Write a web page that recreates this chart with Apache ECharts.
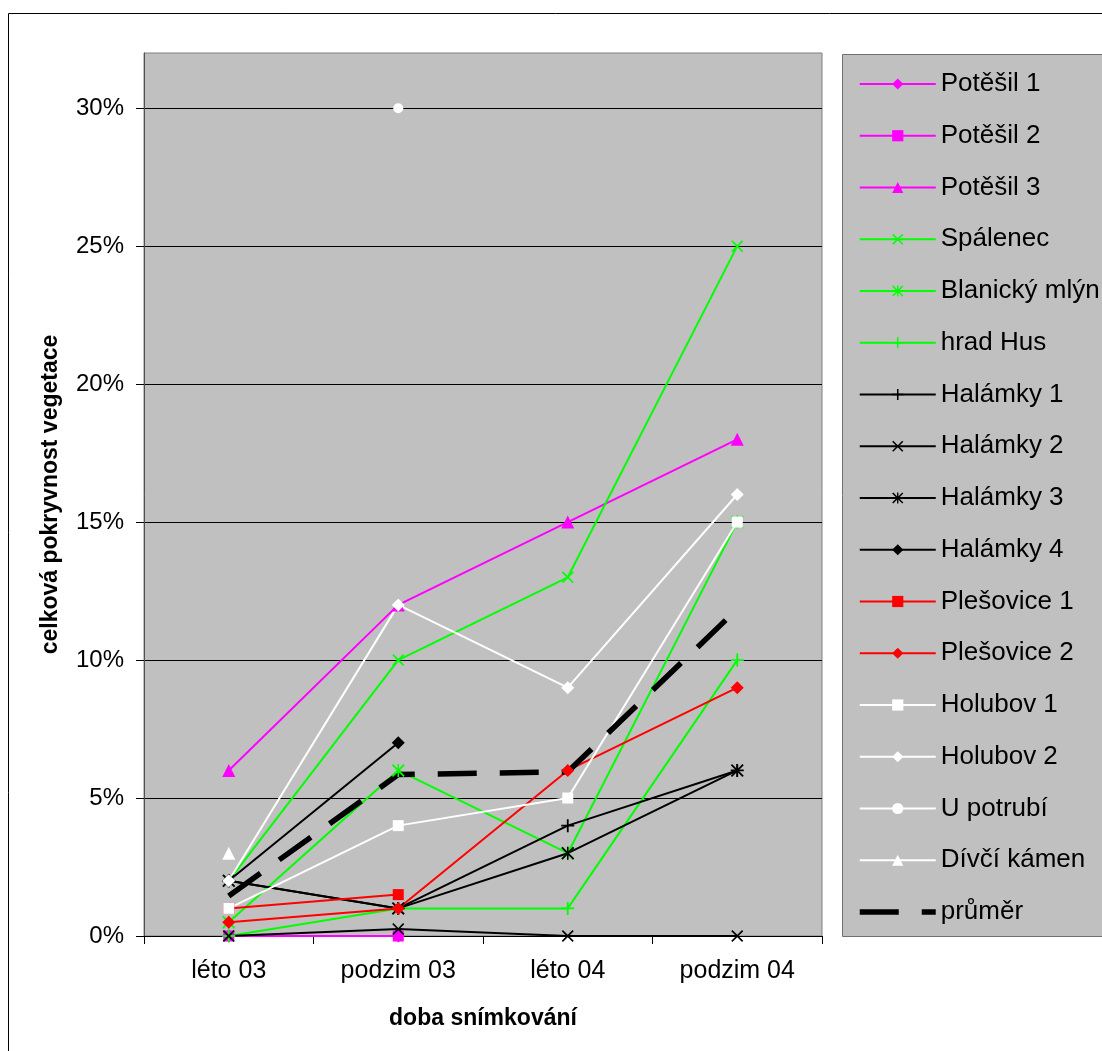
<!DOCTYPE html>
<html>
<head>
<meta charset="utf-8">
<title>Celková pokryvnost vegetace</title>
<script src="https://cdn.jsdelivr.net/npm/echarts@6/dist/echarts.min.js"></script>
<style>
  html, body { margin: 0; padding: 0; background: #ffffff; }
  #chart { width: 1102px; height: 1051px; }
</style>
</head>
<body>
<div id="chart"></div>
<script>
// Sampling periods
const categories = ['léto 03', 'podzim 03', 'léto 04', 'podzim 04'];

// Total vegetation cover per site (%), null = not recorded
const potesil1   = [0, 0, null, null];
const potesil2   = [0, 0, null, null];
const potesil3   = [6, 12, 15, 18];
const spalenec   = [2, 10, 13, 25];
const blanicky   = [0.5, 6, 3, 15];
const hradHus    = [0, 1, 1, 10];
const halamky1   = [2, 1, 4, 6];
const halamky2   = [0, 0.25, 0, 0];
const halamky3   = [2, 1, 3, 6];
const halamky4   = [2, 7, null, null];
const plesovice1 = [1, 1.5, null, null];
const plesovice2 = [0.5, 1, 6, 9];
const holubov1   = [1, 4, 5, 15];
const holubov2   = [2, 12, 9, 16];
const uPotrubi   = [null, 30, null, null];
const divciKamen = [3, null, null, null];
const prumer     = [1.45, 5.85, 5.95, 11.85];

// Value axis tick labels (%)
const yTicks = [0, 5, 10, 15, 20, 25, 30];

const FONT = 'Liberation Sans, Arial, sans-serif';

// Stroke-like marker shapes as filled outlines
const SYM_CROSS = 'path://M0,1 L1,0 L5,4 L9,0 L10,1 L6,5 L10,9 L9,10 L5,6 L1,10 L0,9 L4,5 Z';
const SYM_PLUS = 'path://M4.3,0 L5.7,0 L5.7,4.3 L10,4.3 L10,5.7 L5.7,5.7 L5.7,10 L4.3,10 L4.3,5.7 L0,5.7 L0,4.3 L4.3,4.3 Z';
const SYM_STAR = 'path://M0,1 L1,0 L5,4 L9,0 L10,1 L6,5 L10,9 L9,10 L5,6 L1,10 L0,9 L4,5 Z M4.4,0 L5.6,0 L5.6,10 L4.4,10 Z';

const MAGENTA = '#ff00ff', GREEN = '#00ff00', BLACK = '#000000', RED = '#ff0000', WHITE = '#ffffff';

const AVG_DASH = [39, 23];
const AVG_WIDTH = 5.5;

function site(name, data, color, symbol, size) {
  return {
    name: name,
    type: 'line',
    data: data,
    symbol: symbol,
    symbolSize: size,
    showSymbol: true,
    showAllSymbol: true,
    connectNulls: false,
    animation: false,
    lineStyle: { color: color, width: 2 },
    itemStyle: { color: color, borderWidth: 0 },
    emphasis: { disabled: true }
  };
}

const series = [
  site('Potěšil 1', potesil1, MAGENTA, 'diamond', 13),
  site('Potěšil 2', potesil2, MAGENTA, 'rect', 11),
  site('Potěšil 3', potesil3, MAGENTA, 'triangle', 13),
  site('Spálenec', spalenec, GREEN, SYM_CROSS, 12),
  site('Blanický mlýn', blanicky, GREEN, SYM_STAR, 13),
  site('hrad Hus', hradHus, GREEN, SYM_PLUS, 13),
  site('Halámky 1', halamky1, BLACK, SYM_PLUS, 13),
  site('Halámky 2', halamky2, BLACK, SYM_CROSS, 12),
  site('Halámky 3', halamky3, BLACK, SYM_STAR, 13),
  site('Halámky 4', halamky4, BLACK, 'diamond', 13),
  site('Plešovice 1', plesovice1, RED, 'rect', 11),
  site('Plešovice 2', plesovice2, RED, 'diamond', 13),
  site('Holubov 1', holubov1, WHITE, 'rect', 11),
  site('Holubov 2', holubov2, WHITE, 'diamond', 13),
  site('U potrubí', uPotrubi, WHITE, 'circle', 10),
  site('Dívčí kámen', divciKamen, WHITE, 'triangle', 13),
  {
    name: 'průměr',
    type: 'line',
    data: prumer,
    symbol: 'none',
    animation: false,
    connectNulls: false,
    lineStyle: { color: BLACK, width: AVG_WIDTH, type: AVG_DASH, cap: 'butt' },
    itemStyle: { color: BLACK },
    emphasis: { disabled: true }
  }
];

// legend entries; the average gets a bold dashed sample without a marker
const legendData = series.map(s => s.name === 'průměr'
  ? { name: s.name, itemStyle: { opacity: 0 },
      lineStyle: { color: BLACK, width: AVG_WIDTH, type: AVG_DASH, cap: 'butt' } }
  : { name: s.name });

const chart = echarts.init(document.getElementById('chart'), null, { renderer: 'canvas' });

chart.setOption({
  backgroundColor: '#ffffff',
  animation: false,
  textStyle: { fontFamily: FONT },
  graphic: [
    // outer chart frame
    { type: 'rect', z: -10, silent: true,
      shape: { x: 8.5, y: 13.5, width: 1200, height: 1200 },
      style: { fill: '#ffffff', stroke: '#000000', lineWidth: 1 } },
    // legend panel
    { type: 'rect', z: -5, silent: true,
      shape: { x: 842.5, y: 54.5, width: 400, height: 882 },
      style: { fill: '#c0c0c0', stroke: '#707070', lineWidth: 1 } }
  ],
  grid: {
    left: 144, right: 280, top: 53, bottom: 115,
    show: true,
    backgroundColor: '#c0c0c0',
    borderColor: '#808080',
    borderWidth: 1
  },
  legend: {
    orient: 'vertical',
    left: 857,
    top: 69,
    padding: 0,
    itemWidth: 76,
    itemHeight: 14,
    itemGap: 21.75,
    selectedMode: false,
    textStyle: { fontFamily: FONT, fontSize: 26, color: '#000000', lineHeight: 30 },
    data: legendData
  },
  xAxis: {
    type: 'category',
    data: categories,
    boundaryGap: true,
    axisLine: { show: true, lineStyle: { color: '#000000', width: 1 } },
    axisTick: { show: true, interval: 0, length: 8, lineStyle: { color: '#000000' } },
    axisLabel: { fontFamily: FONT, fontSize: 25, color: '#000000', margin: 23, interval: 0 },
    splitLine: { show: false },
    name: 'doba snímkování',
    nameLocation: 'middle',
    nameGap: 71,
    nameTextStyle: { fontFamily: FONT, fontSize: 23, fontWeight: 'bold', color: '#000000' }
  },
  yAxis: {
    type: 'value',
    min: 0,
    max: 32,
    interval: 5,
    axisLine: { show: true, lineStyle: { color: '#505050', width: 1 } },
    axisTick: { show: true, length: 8, lineStyle: { color: '#000000' }, customValues: yTicks },
    axisLabel: {
      fontFamily: FONT, fontSize: 24, color: '#000000', margin: 20,
      formatter: '{value}%', customValues: yTicks
    },
    splitLine: { show: true, lineStyle: { color: '#000000', width: 1 } },
    name: 'celková pokryvnost vegetace',
    nameLocation: 'middle',
    nameGap: 82,
    nameTextStyle: { fontFamily: FONT, fontSize: 23, fontWeight: 'bold', color: '#000000' }
  },
  series: series
});
</script>
</body>
</html>
